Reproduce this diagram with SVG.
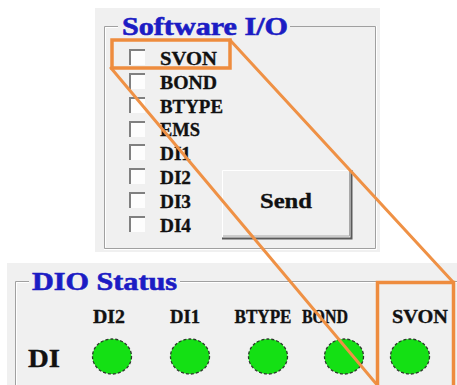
<svg xmlns="http://www.w3.org/2000/svg" width="457" height="385" viewBox="0 0 457 385">
  <style>
    .panel { fill: #f0f0f0; }
    .frame { fill: none; stroke: #a0a0a0; stroke-width: 1; }
    .frame-hi { fill: none; stroke: #ffffff; stroke-width: 1; }
    .title { font-family: "Liberation Serif", "Times New Roman", serif; font-weight: bold; fill: #1c1cc4; stroke: #1c1cc4; stroke-width: 0.6; }
    .lbl { font-family: "Liberation Serif", "Times New Roman", serif; font-weight: bold; fill: #111111; stroke: #111111; stroke-width: 0.35; }
    .box { fill: #fdfdfd; }
    .box-dark { fill: none; stroke: #808080; stroke-width: 2; }
    .led { fill: #14e014; stroke: #2a3a2a; stroke-width: 1.3; stroke-dasharray: 3 2; }
    .hl { fill: none; stroke: #ee8c3e; stroke-width: 3.5; }
    .link { stroke: #ef9145; stroke-width: 3; stroke-linecap: round; }
  </style>
  <defs>
    <g id="chk">
      <rect class="box" x="0" y="0" width="16" height="16"/>
      <path class="box-dark" d="M1 16 V1 H16"/>
    </g>
  </defs>

  <rect width="457" height="385" fill="#ffffff"/>

  <!-- Software I/O panel -->
  <g id="software-io">
    <rect class="panel" x="95" y="8" width="285" height="244"/>
    <path class="frame" d="M118 26.5 H104.5 V248.5 H375.5 V26.5 H290"/>
    <path class="frame-hi" d="M118 27.5 H105.5 V247.5 M104 249.5 H376.5 V26"/>
    <text class="title" x="122" y="35" font-size="25" textLength="166" lengthAdjust="spacingAndGlyphs">Software I/O</text>

    <g id="cb-svon"><use href="#chk" x="129" y="49"/><text class="lbl" x="160" y="65" font-size="19" textLength="57" lengthAdjust="spacingAndGlyphs">SVON</text></g>
    <g id="cb-bond"><use href="#chk" x="129" y="73"/><text class="lbl" x="160" y="89" font-size="19" textLength="57" lengthAdjust="spacingAndGlyphs">BOND</text></g>
    <g id="cb-btype"><use href="#chk" x="129" y="97"/><text class="lbl" x="160" y="113" font-size="19" textLength="63" lengthAdjust="spacingAndGlyphs">BTYPE</text></g>
    <g id="cb-ems"><use href="#chk" x="129" y="121"/><text class="lbl" x="160" y="136" font-size="19" textLength="40" lengthAdjust="spacingAndGlyphs">EMS</text></g>
    <g id="cb-di1"><use href="#chk" x="129" y="144"/><text class="lbl" x="160" y="160" font-size="19" textLength="31" lengthAdjust="spacingAndGlyphs">DI1</text></g>
    <g id="cb-di2"><use href="#chk" x="129" y="168"/><text class="lbl" x="160" y="184" font-size="19" textLength="31" lengthAdjust="spacingAndGlyphs">DI2</text></g>
    <g id="cb-di3"><use href="#chk" x="129" y="192"/><text class="lbl" x="160" y="208" font-size="19" textLength="31" lengthAdjust="spacingAndGlyphs">DI3</text></g>
    <g id="cb-di4"><use href="#chk" x="129" y="216"/><text class="lbl" x="160" y="232" font-size="19" textLength="31" lengthAdjust="spacingAndGlyphs">DI4</text></g>

    <g id="btn-send">
      <rect x="222" y="170" width="129" height="67" fill="#f0f0f0"/>
      <path d="M222.5 237 V170.5 H350" fill="none" stroke="#ffffff" stroke-width="1"/>
      <path d="M223 236 H349.5 V171" fill="none" stroke="#a8a8a8" stroke-width="1"/>
      <path d="M222 238.5 H351.5 V170" fill="none" stroke="#5a5a5a" stroke-width="2"/>
      <text class="lbl" x="286" y="208" font-size="22" text-anchor="middle" textLength="52" lengthAdjust="spacingAndGlyphs">Send</text>
    </g>
  </g>

  <!-- DIO Status panel -->
  <g id="dio-status">
    <rect class="panel" x="7" y="263" width="450" height="122"/>
    <path class="frame" d="M29 281.5 H15.5 V385 M180 281.5 H457"/>
    <path class="frame-hi" d="M29 282.5 H16.5 V385 M180 282.5 H457"/>
    <text class="title" x="32" y="290" font-size="25" textLength="145" lengthAdjust="spacingAndGlyphs">DIO Status</text>

    <text class="lbl" x="28" y="367" font-size="25" textLength="32" lengthAdjust="spacingAndGlyphs">DI</text>

    <g id="led-di2"><text class="lbl" x="109" y="323" font-size="18" text-anchor="middle" textLength="32" lengthAdjust="spacingAndGlyphs">DI2</text><ellipse class="led" cx="112" cy="356.5" rx="19.5" ry="17.5"/></g>
    <g id="led-di1"><text class="lbl" x="185" y="323" font-size="18" text-anchor="middle" textLength="30" lengthAdjust="spacingAndGlyphs">DI1</text><ellipse class="led" cx="190" cy="356.5" rx="19.5" ry="17.5"/></g>
    <g id="led-btype"><text class="lbl" x="263" y="323" font-size="18" text-anchor="middle" textLength="57" lengthAdjust="spacingAndGlyphs">BTYPE</text><ellipse class="led" cx="268" cy="356.5" rx="19.5" ry="17.5"/></g>
    <g id="led-bond"><text class="lbl" x="325" y="323" font-size="18" text-anchor="middle" textLength="46" lengthAdjust="spacingAndGlyphs">BOND</text><ellipse class="led" cx="344" cy="356.5" rx="19.5" ry="17.5"/></g>
    <g id="led-svon"><text class="lbl" x="420" y="323" font-size="18" text-anchor="middle" textLength="56" lengthAdjust="spacingAndGlyphs">SVON</text><ellipse class="led" cx="410" cy="356.5" rx="19.5" ry="17.5"/></g>
  </g>

  <!-- highlight callout linking the SVON checkbox to the SVON indicator -->
  <g id="connectors">
    <line class="link" x1="111" y1="68" x2="378" y2="386"/>
    <line class="link" x1="230" y1="40" x2="453" y2="282"/>
  </g>
  <g id="hl-svon-checkbox">
    <rect class="hl" x="112" y="40" width="118" height="28"/>
  </g>
  <g id="hl-svon-indicator">
    <path class="hl" d="M377.5 388 V282.5 H453.5 V388"/>
  </g>
</svg>
